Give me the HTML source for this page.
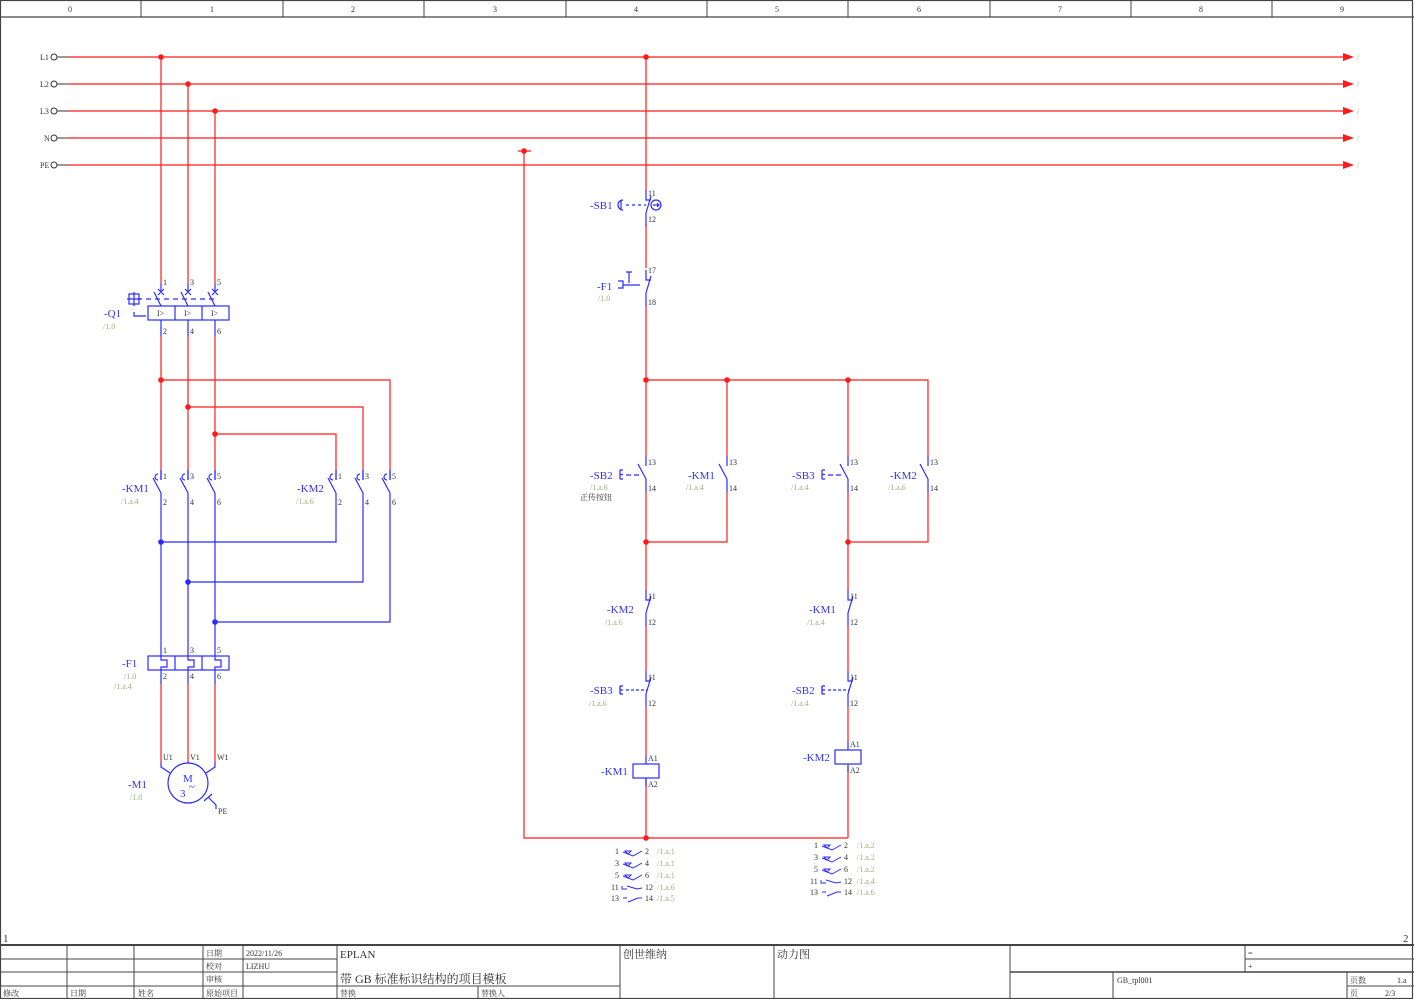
<!DOCTYPE html>
<html><head><meta charset="utf-8"><style>
html,body{margin:0;padding:0;background:#fff;}
svg{display:block;}
text{font-family:"Liberation Serif","Noto Serif CJK SC","Noto Sans CJK SC",serif;}
.n{font-size:8px;fill:#333;}
.lb{font-size:11px;fill:#3333ee;}
.g{font-size:8px;fill:#9ab57a;}
.t{font-size:8px;fill:#333;}
.tb{font-size:11px;fill:#333;}
</style></head><body>
<svg width="1414" height="999" viewBox="0 0 1414 999" xmlns="http://www.w3.org/2000/svg">
<defs>
<g id="no">
<rect x="-2" y="9" width="4" height="14" fill="#fff"/>
<path d="M0,0V10M-8,8L0,23M0,23V36" stroke="#2b2bff" stroke-width="1.2" fill="none"/>
</g>
<g id="noh">
<path d="M0,0V10" stroke="#2b2bff" stroke-width="1.2" fill="none"/>
<path d="M-3,4 a3,3 0 0 0 0,6" stroke="#2b2bff" stroke-width="1.2" fill="none"/>
</g>
<g id="nc">
<rect x="-2" y="9" width="4" height="14" fill="#fff"/>
<path d="M0,0V10H5M5,6L0,23M0,23V36" stroke="#2b2bff" stroke-width="1.2" fill="none"/>
</g>
</defs>
<!-- frame -->
<rect x="0.5" y="0.5" width="1412" height="998" fill="none" stroke="#444" stroke-width="1.2"/>
<line x1="0" y1="17" x2="1414" y2="17" stroke="#444" stroke-width="1.2"/>
<g stroke="#444" stroke-width="1">
<line x1="141" y1="0" x2="141" y2="17"/><line x1="283" y1="0" x2="283" y2="17"/><line x1="424" y1="0" x2="424" y2="17"/><line x1="566" y1="0" x2="566" y2="17"/><line x1="707" y1="0" x2="707" y2="17"/><line x1="848" y1="0" x2="848" y2="17"/><line x1="990" y1="0" x2="990" y2="17"/><line x1="1131" y1="0" x2="1131" y2="17"/><line x1="1272" y1="0" x2="1272" y2="17"/>
</g>
<g class="t" text-anchor="middle" font-size="7">
<text x="70" y="12">0</text><text x="212" y="12">1</text><text x="353" y="12">2</text><text x="495" y="12">3</text><text x="636" y="12">4</text><text x="777" y="12">5</text><text x="919" y="12">6</text><text x="1060" y="12">7</text><text x="1201" y="12">8</text><text x="1342" y="12">9</text>
</g>
<text x="3" y="942" class="tb" font-size="10">1</text><text x="1403" y="942" class="tb" font-size="10">2</text>

<!-- buses -->
<g>
<text x="40" y="60" class="n">L1</text><text x="40" y="87" class="n">L2</text><text x="40" y="114" class="n">L3</text><text x="44" y="141" class="n">N</text><text x="40" y="168" class="n">PE</text>
<g fill="#fff" stroke="#333" stroke-width="1"><circle cx="54" cy="57" r="3"/><circle cx="54" cy="84" r="3"/><circle cx="54" cy="111" r="3"/><circle cx="54" cy="138" r="3"/><circle cx="54" cy="165" r="3"/></g>
<g stroke="#333"><line x1="57" y1="57" x2="68" y2="57"/><line x1="57" y1="84" x2="68" y2="84"/><line x1="57" y1="111" x2="68" y2="111"/><line x1="57" y1="138" x2="68" y2="138"/><line x1="57" y1="165" x2="68" y2="165"/></g>
<g stroke="#ff1a1a" stroke-width="1.2"><line x1="68" y1="57" x2="1344" y2="57"/><line x1="68" y1="84" x2="1344" y2="84"/><line x1="68" y1="111" x2="1344" y2="111"/><line x1="68" y1="138" x2="1344" y2="138"/><line x1="68" y1="165" x2="1344" y2="165"/></g>
<g fill="#ff1a1a"><path d="M1343,53L1354,57L1343,61Z"/><path d="M1343,80L1354,84L1343,88Z"/><path d="M1343,107L1354,111L1343,115Z"/><path d="M1343,134L1354,138L1343,142Z"/><path d="M1343,161L1354,165L1343,169Z"/></g>
<g class="g"><text x="1357" y="60">/</text><text x="1357" y="87">/</text><text x="1357" y="114">/</text><text x="1357" y="141">/</text><text x="1357" y="168">/</text></g>
</g>

<!-- power red wires -->
<g stroke="#ff1a1a" stroke-width="1.2" fill="none">
<line x1="161" y1="57" x2="161" y2="284"/><line x1="188" y1="84" x2="188" y2="284"/><line x1="215" y1="111" x2="215" y2="284"/>
<line x1="161" y1="336" x2="161" y2="470"/><line x1="188" y1="336" x2="188" y2="470"/><line x1="215" y1="336" x2="215" y2="470"/>
<path d="M161,380H390V470M188,407H363V470M215,434H336V470"/>
<line x1="161" y1="684" x2="161" y2="762"/><line x1="188" y1="684" x2="188" y2="762"/><line x1="215" y1="684" x2="215" y2="762"/>
</g>
<g fill="#ff1a1a"><circle cx="161" cy="57" r="2.8"/><circle cx="188" cy="84" r="2.8"/><circle cx="215" cy="111" r="2.8"/><circle cx="161" cy="380" r="2.8"/><circle cx="188" cy="407" r="2.8"/><circle cx="215" cy="434" r="2.8"/></g>

<!-- Q1 -->
<g stroke="#2b2bff" stroke-width="1.2" fill="none">
<path d="M161,284V292M188,284V292M215,284V292"/>
<path d="M158,289l6,6M164,289l-6,6M185,289l6,6M191,289l-6,6M212,289l6,6M218,289l-6,6"/>
<path d="M154,292L161,306M181,292L188,306M208,292L215,306"/>
<path d="M137,299H215" stroke-dasharray="5,4"/>
<rect x="129" y="294" width="10" height="10"/><path d="M134,292V306M127,299H141"/>
<path d="M134,312V316H146"/>
<rect x="148" y="306" width="81" height="14"/><path d="M175,306V320M202,306V320"/>
<path d="M161,320V336M188,320V336M215,320V336"/>
</g>
<g class="n" font-size="7" fill="#33c"><text x="157" y="316">I&gt;</text><text x="184" y="316">I&gt;</text><text x="211" y="316">I&gt;</text></g>
<g class="n"><text x="163" y="285">1</text><text x="190" y="285">3</text><text x="217" y="285">5</text><text x="163" y="334">2</text><text x="190" y="334">4</text><text x="217" y="334">6</text></g>
<text x="104" y="317" class="lb">-Q1</text><text x="103" y="329" class="g">/1.0</text>

<!-- KM1 / KM2 main contacts -->
<use href="#no" x="161" y="470"/><use href="#no" x="188" y="470"/><use href="#no" x="215" y="470"/>
<use href="#no" x="336" y="470"/><use href="#no" x="363" y="470"/><use href="#no" x="390" y="470"/>
<use href="#noh" x="161" y="470"/><use href="#noh" x="188" y="470"/><use href="#noh" x="215" y="470"/>
<use href="#noh" x="336" y="470"/><use href="#noh" x="363" y="470"/><use href="#noh" x="390" y="470"/>
<g class="n"><text x="163" y="479">1</text><text x="190" y="479">3</text><text x="217" y="479">5</text><text x="163" y="505">2</text><text x="190" y="505">4</text><text x="217" y="505">6</text>
<text x="338" y="479">1</text><text x="365" y="479">3</text><text x="392" y="479">5</text><text x="338" y="505">2</text><text x="365" y="505">4</text><text x="392" y="505">6</text></g>
<text x="122" y="492" class="lb">-KM1</text><text x="121" y="504" class="g">/1.a.4</text>
<text x="297" y="492" class="lb">-KM2</text><text x="296" y="504" class="g">/1.a.6</text>

<g stroke="#2b2bff" stroke-width="1.2" fill="none">
<path d="M161,506V656M188,506V656M215,506V656"/>
<path d="M336,506V542H161M363,506V582H188M390,506V622H215"/>
</g>
<g fill="#2b2bff"><circle cx="161" cy="542" r="2.8"/><circle cx="188" cy="582" r="2.8"/><circle cx="215" cy="622" r="2.8"/></g>

<!-- F1 thermal -->
<g stroke="#2b2bff" stroke-width="1.2" fill="none">
<rect x="148" y="656" width="81" height="14"/><path d="M175,656V670M202,656V670"/>
<path d="M161,656V660H167V667H161V684M188,656V660H194V667H188V684M215,656V660H221V667H215V684"/>
</g>
<g class="n"><text x="163" y="653">1</text><text x="190" y="653">3</text><text x="217" y="653">5</text><text x="163" y="679">2</text><text x="190" y="679">4</text><text x="217" y="679">6</text></g>
<text x="122" y="667" class="lb">-F1</text><text x="124" y="679" class="g">/1.0</text><text x="114" y="689" class="g">/1.a.4</text>

<!-- Motor -->
<g stroke="#2b2bff" stroke-width="1.2" fill="none">
<path d="M161,762V767L170,773M215,762V767L206,773M188,762V763"/>
<circle cx="188" cy="783" r="20"/>
<path d="M204,801L212,794M208,797L216,805V809"/>
</g>
<g class="n"><text x="163" y="760">U1</text><text x="190" y="760">V1</text><text x="217" y="760">W1</text><text x="218" y="814">PE</text></g>
<text x="183" y="782" class="lb" font-size="12">M</text><text x="180" y="797" class="lb" font-size="12">3</text><text x="189" y="790" class="lb" font-size="8">~</text>
<text x="128" y="788" class="lb">-M1</text><text x="130" y="800" class="g">/1.0</text>

<!-- control red wires -->
<g stroke="#ff1a1a" stroke-width="1.2" fill="none">
<line x1="646" y1="57" x2="646" y2="190"/>
<line x1="646" y1="224" x2="646" y2="268"/>
<line x1="646" y1="306" x2="646" y2="456"/>
<path d="M646,380H928V456M727,380V456M848,380V456"/>
<path d="M646,492V590M727,492V542H646M848,492V590M928,492V542H848"/>
<path d="M646,626V671M848,626V671M646,707V756M848,707V742M848,766V838M646,778V838"/>
<path d="M518,151H531M524,151V838H848"/>
</g>
<g fill="#ff1a1a"><circle cx="646" cy="57" r="2.8"/><circle cx="524" cy="151" r="2.8"/><circle cx="646" cy="380" r="2.8"/><circle cx="727" cy="380" r="2.8"/><circle cx="848" cy="380" r="2.8"/><circle cx="646" cy="542" r="2.8"/><circle cx="848" cy="542" r="2.8"/><circle cx="646" cy="838" r="2.8"/></g>

<!-- SB1 -->
<use href="#nc" x="646" y="190"/>
<g stroke="#2b2bff" stroke-width="1.2" fill="none">
<path d="M626,205H646" stroke-dasharray="3,3"/>
<path d="M623,200a5,5 0 0 0 0,10M621,200V210"/>
<circle cx="656" cy="205" r="5"/><path d="M653,205H659M657,203L659,205L657,207"/>
</g>
<g class="n"><text x="648" y="196">11</text><text x="648" y="222">12</text></g>
<text x="590" y="209" class="lb">-SB1</text>

<!-- F1 aux -->
<use href="#nc" x="646" y="270"/>
<g stroke="#2b2bff" stroke-width="1.2" fill="none">
<path d="M618,281H623V288H618M623,285H640M629,272V283M626,272H632"/>
</g>
<g class="n"><text x="648" y="273">17</text><text x="648" y="305">18</text></g>
<text x="597" y="290" class="lb">-F1</text><text x="598" y="301" class="g">/1.0</text>

<!-- NO contacts control -->
<use href="#no" x="646" y="456"/><use href="#no" x="727" y="456"/><use href="#no" x="848" y="456"/><use href="#no" x="928" y="456"/>
<g stroke="#2b2bff" stroke-width="1.2" fill="none">
<path d="M620,470V479M620,470H623M620,474.5H623M620,479H623M626,475H641" />
<path d="M822,470V479M822,470H825M822,474.5H825M822,479H825M828,475H843"/>
</g>
<path d="M626,475H641M828,475H843" stroke="#fff" stroke-width="1.4" stroke-dasharray="0,5,3,0"/>
<g class="n"><text x="648" y="465">13</text><text x="648" y="491">14</text><text x="729" y="465">13</text><text x="729" y="491">14</text><text x="850" y="465">13</text><text x="850" y="491">14</text><text x="930" y="465">13</text><text x="930" y="491">14</text></g>
<text x="590" y="479" class="lb">-SB2</text><text x="590" y="490" class="g">/1.a.6</text><text x="580" y="500" class="t">正传按钮</text>
<text x="688" y="479" class="lb">-KM1</text><text x="686" y="490" class="g">/1.a.4</text>
<text x="792" y="479" class="lb">-SB3</text><text x="791" y="490" class="g">/1.a.4</text>
<text x="890" y="479" class="lb">-KM2</text><text x="888" y="490" class="g">/1.a.6</text>

<!-- NC contacts -->
<use href="#nc" x="646" y="590"/><use href="#nc" x="848" y="590"/><use href="#nc" x="646" y="671"/><use href="#nc" x="848" y="671"/>
<g stroke="#2b2bff" stroke-width="1.2" fill="none">
<path d="M620,686V694M620,686H623M620,690H623M620,694H623M626,690H647" stroke-dasharray="3,2"/>
<path d="M822,686V694M822,686H825M822,690H825M822,694H825M828,690H849" stroke-dasharray="3,2"/>
<path d="M620,686V694M822,686V694"/>
</g>
<g class="n"><text x="648" y="599">11</text><text x="648" y="625">12</text><text x="850" y="599">11</text><text x="850" y="625">12</text>
<text x="648" y="680">11</text><text x="648" y="706">12</text><text x="850" y="680">11</text><text x="850" y="706">12</text></g>
<text x="607" y="613" class="lb">-KM2</text><text x="605" y="625" class="g">/1.a.6</text>
<text x="809" y="613" class="lb">-KM1</text><text x="807" y="625" class="g">/1.a.4</text>
<text x="590" y="694" class="lb">-SB3</text><text x="589" y="706" class="g">/1.a.6</text>
<text x="792" y="694" class="lb">-SB2</text><text x="791" y="706" class="g">/1.a.4</text>

<!-- coils -->
<g stroke="#2b2bff" stroke-width="1.2" fill="#fff">
<path d="M646,756V764M646,778V786M848,742V750M848,764V772" fill="none"/>
<rect x="633" y="764" width="26" height="14"/>
<rect x="835" y="750" width="26" height="14"/>
</g>
<g class="n"><text x="648" y="761">A1</text><text x="648" y="787">A2</text><text x="850" y="747">A1</text><text x="850" y="773">A2</text></g>
<text x="601" y="775" class="lb">-KM1</text><text x="803" y="761" class="lb">-KM2</text>

<!-- cross reference KM1 -->
<g class="n">
<text x="615" y="854">1</text><text x="615" y="866">3</text><text x="615" y="878">5</text><text x="611" y="890">11</text><text x="611" y="901">13</text>
<text x="645" y="854">2</text><text x="645" y="866">4</text><text x="645" y="878">6</text><text x="645" y="890">12</text><text x="645" y="901">14</text>
<text x="814" y="848">1</text><text x="814" y="860">3</text><text x="814" y="872">5</text><text x="810" y="884">11</text><text x="810" y="895">13</text>
<text x="844" y="848">2</text><text x="844" y="860">4</text><text x="844" y="872">6</text><text x="844" y="884">12</text><text x="844" y="895">14</text>
</g>
<g class="g">
<text x="657" y="854">/1.a.1</text><text x="657" y="866">/1.a.1</text><text x="657" y="878">/1.a.1</text><text x="657" y="890">/1.a.6</text><text x="657" y="901">/1.a.5</text>
<text x="857" y="848">/1.a.2</text><text x="857" y="860">/1.a.2</text><text x="857" y="872">/1.a.2</text><text x="857" y="884">/1.a.4</text><text x="857" y="895">/1.a.6</text>
</g>
<g stroke="#2b2bff" stroke-width="1" fill="none">
<path d="M623,852L633,856L642,851M623,864L633,868L642,863M623,876L633,880L642,875M622,886V889H627M627,886L637,889L642,888M623,898H627M628,902L638,898H642"/>
<path d="M625,851l3,3l3,-3zM625,863l3,3l3,-3zM625,875l3,3l3,-3z"/>
<path d="M822,846L832,850L841,845M822,858L832,862L841,857M822,870L832,874L841,869M821,880V883H826M826,880L836,883L841,882M822,892H826M827,896L837,892H841"/>
<path d="M824,845l3,3l3,-3zM824,857l3,3l3,-3zM824,869l3,3l3,-3z"/>
</g>

<!-- title block -->
<g stroke="#444" stroke-width="1" fill="none">
<line x1="0" y1="945" x2="1414" y2="945" stroke-width="2"/>
<line x1="0" y1="959" x2="337" y2="959"/><line x1="0" y1="972" x2="337" y2="972"/><line x1="0" y1="986" x2="620" y2="986"/>
<line x1="67" y1="945" x2="67" y2="999"/><line x1="134" y1="945" x2="134" y2="999"/><line x1="203" y1="945" x2="203" y2="999"/><line x1="243" y1="945" x2="243" y2="999"/><line x1="337" y1="945" x2="337" y2="999"/><line x1="478" y1="986" x2="478" y2="999"/><line x1="620" y1="945" x2="620" y2="999"/>
<line x1="774" y1="945" x2="774" y2="999"/><line x1="1010" y1="945" x2="1010" y2="999"/><line x1="1245" y1="945" x2="1245" y2="972"/>
<line x1="1245" y1="959" x2="1414" y2="959"/><line x1="1010" y1="972" x2="1414" y2="972" stroke-width="1.5"/>
<line x1="1113" y1="972" x2="1113" y2="999"/><line x1="1347" y1="972" x2="1347" y2="999"/><line x1="1347" y1="986" x2="1414" y2="986"/>
</g>
<g class="t">
<text x="206" y="956">日期</text><text x="246" y="956">2022/11/26</text>
<text x="206" y="969">校对</text><text x="246" y="969">LIZHU</text>
<text x="206" y="982">审核</text>
<text x="3" y="996">修改</text><text x="70" y="996">日期</text><text x="138" y="996">姓名</text><text x="206" y="996">原始项目</text>
<text x="340" y="996">替换</text><text x="481" y="996">替换人</text>
<text x="1117" y="983">GB_tpl001</text>
<text x="1350" y="983">页数</text><text x="1397" y="983">1.a</text>
<text x="1350" y="996">页</text><text x="1385" y="996">2/3</text>
<text x="1248" y="956">=</text><text x="1248" y="969">+</text>
</g>
<g class="tb">
<text x="340" y="958">EPLAN</text>
<text x="340" y="983" font-size="12">带 GB 标准标识结构的项目模板</text>
<text x="623" y="958">创世维纳</text>
<text x="777" y="958">动力图</text>
</g>
</svg>
</body></html>
